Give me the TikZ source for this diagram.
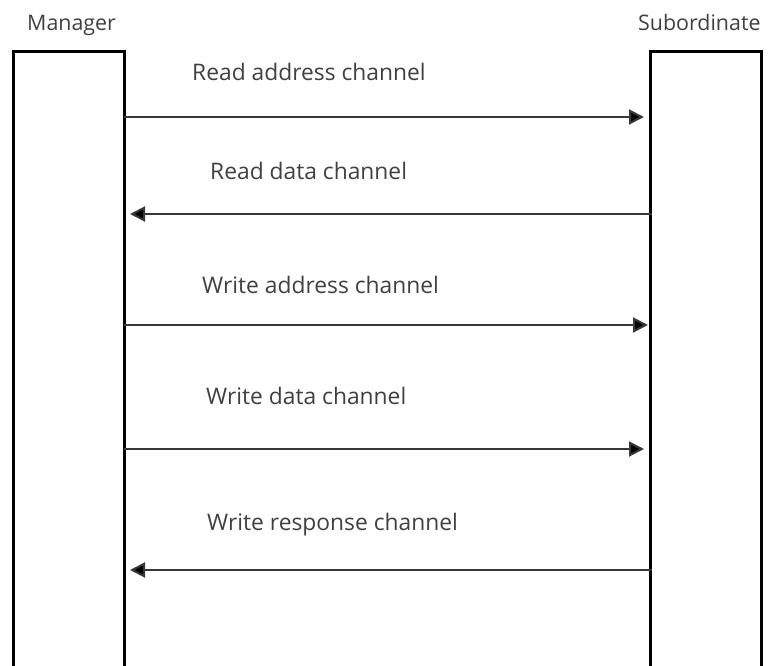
\documentclass[tikz,border=0pt]{standalone}
\usepackage{fontspec}
\setmainfont{Open Sans}
\usetikzlibrary{arrows.meta}
\tikzset{
  lane/.style={draw=black, line width=3pt, fill=none, minimum width=111pt, minimum height=660pt, anchor=north west, inner sep=0pt},
  msg/.style={draw=black!78, line width=2pt, -{Triangle[length=15pt,width=15pt,fill=black]}},
  lbl/.style={font=\fontsize{22.8}{24}\selectfont, text=black!75, anchor=base west, inner sep=0pt},
}
\begin{document}
\begin{tikzpicture}[x=1pt,y=-1pt]
\useasboundingbox (0,0) rectangle (772,666);
\clip (0,0) rectangle (772,666);
\node[lbl, font=\fontsize{21.4}{24}\selectfont] (mgrl) at (27,31) {Manager};
\node[lbl, font=\fontsize{21.4}{24}\selectfont] (subl) at (638,31) {Subordinate};
\node[lane] (mgr) at (12,50) {};
\node[lane] (sub) at (649,50) {};
% coordinates on the lanes
\coordinate (m1) at (mgr.east |- 0,117);
\coordinate (s1) at (sub.west |- 0,117);
\coordinate (m2) at (mgr.east |- 0,214);
\coordinate (s2) at (sub.west |- 0,214);
\coordinate (m3) at (mgr.east |- 0,325);
\coordinate (s3) at (sub.west |- 0,325);
\coordinate (m4) at (mgr.east |- 0,449);
\coordinate (s4) at (sub.west |- 0,449);
\coordinate (m5) at (mgr.east |- 0,570);
\coordinate (s5) at (sub.west |- 0,570);
\draw[msg, shorten <=-2pt, shorten >=5pt] (m1) -- (s1);
\draw[msg, shorten <=-3pt, shorten >=4pt] (s2) -- (m2);
\draw[msg, shorten <=-2pt, shorten >=1pt] (m3) -- (s3);
\draw[msg, shorten <=-2pt, shorten >=5pt] (m4) -- (s4);
\draw[msg, shorten <=-3pt, shorten >=4pt] (s5) -- (m5);
\node[lbl] (t1) at (192,81) {Read address channel};
\node[lbl] (t2) at (210,180) {Read data channel};
\node[lbl] (t3) at (202,293) {Write address channel};
\node[lbl] (t4) at (206,404) {Write data channel};
\node[lbl] (t5) at (207,530) {Write response channel};
\end{tikzpicture}
\end{document}
